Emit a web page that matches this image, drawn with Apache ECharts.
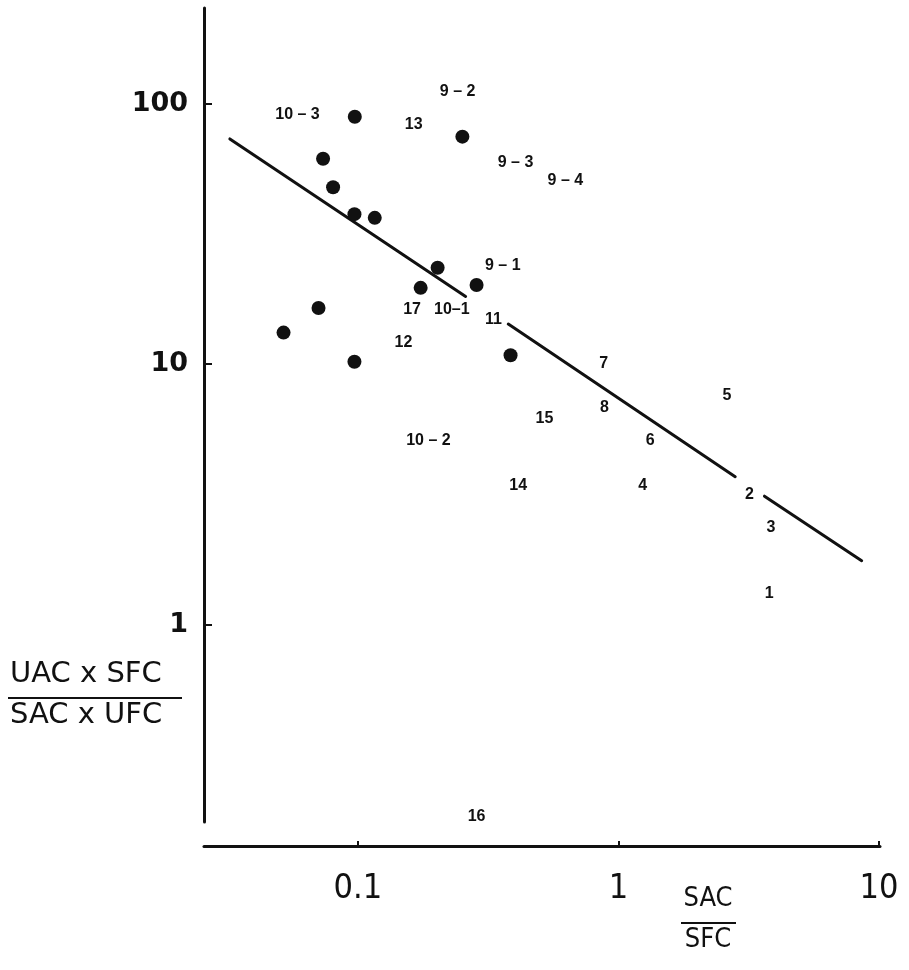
<!DOCTYPE html>
<html>
<head>
<meta charset="utf-8">
<script src="https://cdn.jsdelivr.net/npm/echarts@6/dist/echarts.min.js"></script>
<style>
html,body{margin:0;padding:0;background:#fff;}
#chart{width:909px;height:970px;}
</style>
</head>
<body>
<div id="chart"></div>
<script>
// Axis ticks
const xTicks = [0.1, 1, 10];
const xTickLabels = ['0.1', '1', '10'];
const yTicks = [1, 10, 100];
const yTickLabels = ['1', '10', '100'];

// Filled circles (SAC/SFC, ratio)
const dotX = [0.0974, 0.252, 0.0736, 0.0804, 0.0971, 0.1162, 0.2025, 0.1743, 0.2857, 0.0707, 0.0519, 0.0971, 0.3857];
const dotY = [89.0, 74.6, 61.4, 47.7, 37.6, 36.4, 23.4, 19.6, 20.1, 16.4, 13.2, 10.2, 10.8];

// Numbered labels
const labelNames = ['10 – 3', '9 – 2', '13', '9 – 3', '9 – 4', '9 – 1', '17', '10–1', '11', '12', '7', '5', '8', '15', '10 – 2', '6', '14', '4', '2', '3', '1', '16'];
const labelX = [0.0587, 0.2416, 0.1639, 0.403, 0.626, 0.360, 0.1615, 0.2296, 0.3314, 0.1498, 0.878, 2.61, 0.884, 0.5206, 0.1866, 1.326, 0.4128, 1.239, 3.185, 3.846, 3.79, 0.2857];
const labelY = [90.3, 111, 82.7, 59.1, 50.4, 23.8, 16.2, 16.2, 14.75, 12.08, 10.06, 7.55, 6.80, 6.15, 5.06, 5.08, 3.40, 3.41, 3.14, 2.36, 1.31, 0.1824];

// Fitted line (drawn in three pieces)
const fitAX = [0.0323, 0.2593], fitAY = [73.1, 18.16];
const fitBX = [0.378, 2.807],   fitBY = [14.24, 3.69];
const fitCX = [3.636, 8.58],    fitCY = [3.11, 1.758];

const ink = '#111';
const chart = echarts.init(document.getElementById('chart'), null, {renderer: 'canvas'});

function pairs(xs, ys) { return xs.map((x, i) => [x, ys[i]]); }
function fitSeries(xs, ys) {
  return {
    type: 'line', data: pairs(xs, ys), symbol: 'none', silent: true,
    lineStyle: {color: ink, width: 3, cap: 'round', opacity: 1}, z: 3
  };
}

const narrow = '"Liberation Sans Narrow", "DejaVu Sans Condensed", "Liberation Sans", sans-serif';

chart.setOption({
  animation: false,
  backgroundColor: '#fff',
  grid: {left: 204, right: 29, top: 8, bottom: 148, containLabel: false},
  xAxis: {
    type: 'log', logBase: 10, min: 0.0257, max: 10.09,
    offset: 24,
    splitLine: {show: false},
    axisLine: {show: true, lineStyle: {color: ink, width: 3}},
    axisTick: {show: true, inside: true, length: 5, lineStyle: {color: ink, width: 2}, customValues: xTicks},
    minorTick: {show: false},
    axisLabel: {
      show: true, customValues: xTicks, margin: 26,
      color: ink, fontSize: 34, fontFamily: narrow,
      formatter: v => xTickLabels[xTicks.findIndex(t => Math.abs(t - v) / t < 1e-6)] ?? ''
    }
  },
  yAxis: {
    type: 'log', logBase: 10, min: 0.1745, max: 232.6,
    splitLine: {show: false},
    axisLine: {show: true, lineStyle: {color: ink, width: 3}},
    axisTick: {show: true, inside: true, length: 8, lineStyle: {color: ink, width: 2}, customValues: yTicks},
    minorTick: {show: false},
    axisLabel: {
      show: true, customValues: yTicks, margin: 16,
      color: ink, fontSize: 27, fontWeight: 'bold', fontFamily: '"DejaVu Sans", sans-serif',
      formatter: v => yTickLabels[yTicks.findIndex(t => Math.abs(t - v) / t < 1e-6)] ?? ''
    }
  },
  series: [
    fitSeries(fitAX, fitAY),
    fitSeries(fitBX, fitBY),
    fitSeries(fitCX, fitCY),
    {
      type: 'scatter', data: pairs(dotX, dotY), symbol: 'circle', symbolSize: 14,
      itemStyle: {color: ink, opacity: 1}, silent: true, z: 4
    },
    {
      type: 'scatter', symbolSize: 1, itemStyle: {color: 'rgba(0,0,0,0)', opacity: 1}, silent: true, z: 5,
      data: labelNames.map((n, i) => ({name: n, value: [labelX[i], labelY[i]]})),
      label: {
        show: true, position: 'inside', formatter: '{b}', opacity: 1,
        color: ink, fontSize: 16, fontWeight: 'bold', fontFamily: '"Liberation Sans", sans-serif'
      }
    }
  ],
  graphic: [
    // y-axis title (fraction)
    {type: 'text', left: 10, top: 660, style: {text: 'UAC x SFC', fill: ink, font: '29px "DejaVu Sans", sans-serif'}},
    {type: 'line', shape: {x1: 8, y1: 698, x2: 182, y2: 698}, style: {stroke: ink, lineWidth: 2}},
    {type: 'text', left: 10, top: 701, style: {text: 'SAC x UFC', fill: ink, font: '29px "DejaVu Sans", sans-serif'}},
    // x-axis title (fraction)
    {type: 'text', x: 708, y: 899, style: {text: 'SAC', fill: ink, align: 'center', verticalAlign: 'middle', font: '27px ' + narrow}},
    {type: 'line', shape: {x1: 681, y1: 923, x2: 736, y2: 923}, style: {stroke: ink, lineWidth: 2}},
    {type: 'text', x: 708, y: 940, style: {text: 'SFC', fill: ink, align: 'center', verticalAlign: 'middle', font: '27px ' + narrow}}
  ]
});
</script>
</body>
</html>
